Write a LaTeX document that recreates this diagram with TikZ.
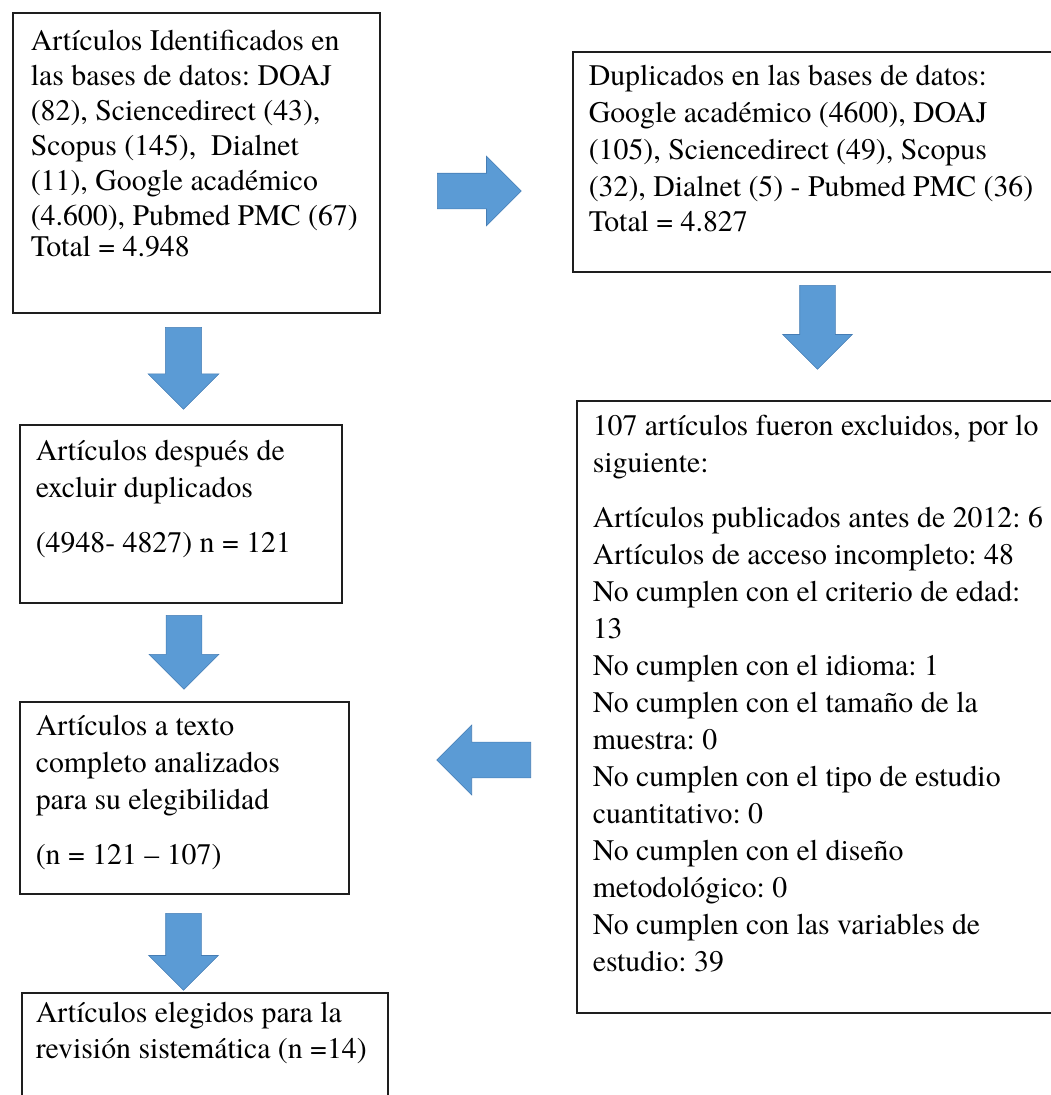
\documentclass[tikz,border=0pt]{standalone}
\usepackage{fontspec}
\setmainfont{texgyretermes}[Extension=.otf, UprightFont=*-regular, BoldFont=*-bold, ItalicFont=*-italic, BoldItalicFont=*-bolditalic]
\usetikzlibrary{shapes.arrows}

\newcommand{\boxfont}{\fontsize{29.8}{37}\selectfont\frenchspacing}
\definecolor{arrowblue}{RGB}{91,155,213}
\definecolor{arrowedge}{RGB}{70,125,180}

\tikzset{every picture/.style={line width=0.75pt}}
\tikzset{
  prisma/.style={draw={rgb, 255:red, 30; green, 30; blue, 30 }, line width=1.6, anchor=north west, inner xsep=16, inner ysep=8, font=\boxfont},
  blockarrow/.style={single arrow, fill=arrowblue, draw=arrowedge, line width=0.6, inner sep=17.5, minimum width=69, single arrow head extend=17, single arrow tip angle=90, anchor=tail}
}

\begin{document}
\begin{tikzpicture}[x=1pt,y=1pt,yscale=-1,xscale=1]
        \useasboundingbox (0,0) rectangle (1051,1095);
        \clip (0,0) rectangle (1051,1095);
        % Text Node
        \node [prisma, inner xsep=18, inner ysep=13.5] (ident) at (12,12) {\parbox[t][273pt][t]{331pt}{\fontsize{29.8}{35}\selectfont\strut Artículos Identificados en\\ las bases de datos: DOAJ\\ (82), Sciencedirect (43),\\ Scopus (145),\ \ Dialnet\\ (11), Google académico\\ (4.600), Pubmed PMC (67)\\[-4pt] Total = 4.948}};
        % Text Node
        \node [prisma] (dup) at (572,51) {\parbox[t][204pt][t]{470pt}{\strut Duplicados en las bases de datos:\\ Google académico (4600), DOAJ\\ (105), Sciencedirect (49), Scopus\\ (32), Dialnet (5) - Pubmed PMC (36)\\[-2pt] Total = 4.827}};
        % Text Node
        \node [prisma, inner ysep=10] (dedup) at (19,424) {\parbox[t][158pt][t]{290pt}{\strut Artículos después de\\ excluir duplicados\\[18pt] (4948- 4827) n = 121}};
        % Text Node
        \node [prisma] (full) at (19,701) {\parbox[t][176pt][t]{297pt}{\strut Artículos a texto\\ completo analizados\\ para su elegibilidad\\[18pt] (n = 121 – 107)}};
        % Text Node
        \node [prisma, inner ysep=9] (excl) at (576,400) {\parbox[t][594pt][t]{470pt}{\strut 107 artículos fueron excluidos, por lo\\ siguiente:\\[18pt] Artículos publicados antes de 2012: 6\\ Artículos de acceso incompleto: 48\\ No cumplen con el criterio de edad:\\ 13\\ No cumplen con el idioma: 1\\ No cumplen con el tamaño de la\\ muestra: 0\\ No cumplen con el tipo de estudio\\ cuantitativo: 0\\ No cumplen con el diseño\\ metodológico: 0\\ No cumplen con las variables de\\ estudio: 39}};
        % Text Node
        \node [prisma, inner xsep=14, inner ysep=4] (chosen) at (21,992) {\parbox[t][110pt][t]{338pt}{\fontsize{29.8}{36}\selectfont\strut Artículos elegidos para la\\ revisión sistemática (n =14)}};

        %Shape: Right Arrow
        \node [blockarrow, minimum height=84, minimum width=68] (toDup) at (437,191) {};
        %Shape: Down Arrow
        \node [blockarrow, shape border rotate=270, minimum height=84] (toExcl) at (817.5,285) {};
        %Shape: Down Arrow
        \node [blockarrow, shape border rotate=270, minimum height=82, minimum width=71] (toDedup) at (183.5,327) {};
        %Shape: Down Arrow
        \node [blockarrow, shape border rotate=270, minimum height=74, minimum width=70] (toFull) at (184,615) {};
        %Shape: Left Arrow
        \node [blockarrow, shape border rotate=180, minimum height=94, minimum width=70] (fromExcl) at (531,760) {};
        %Shape: Down Arrow
        \node [blockarrow, shape border rotate=270, minimum height=77] (toChosen) at (183.5,913) {};
\end{tikzpicture}
\end{document}
